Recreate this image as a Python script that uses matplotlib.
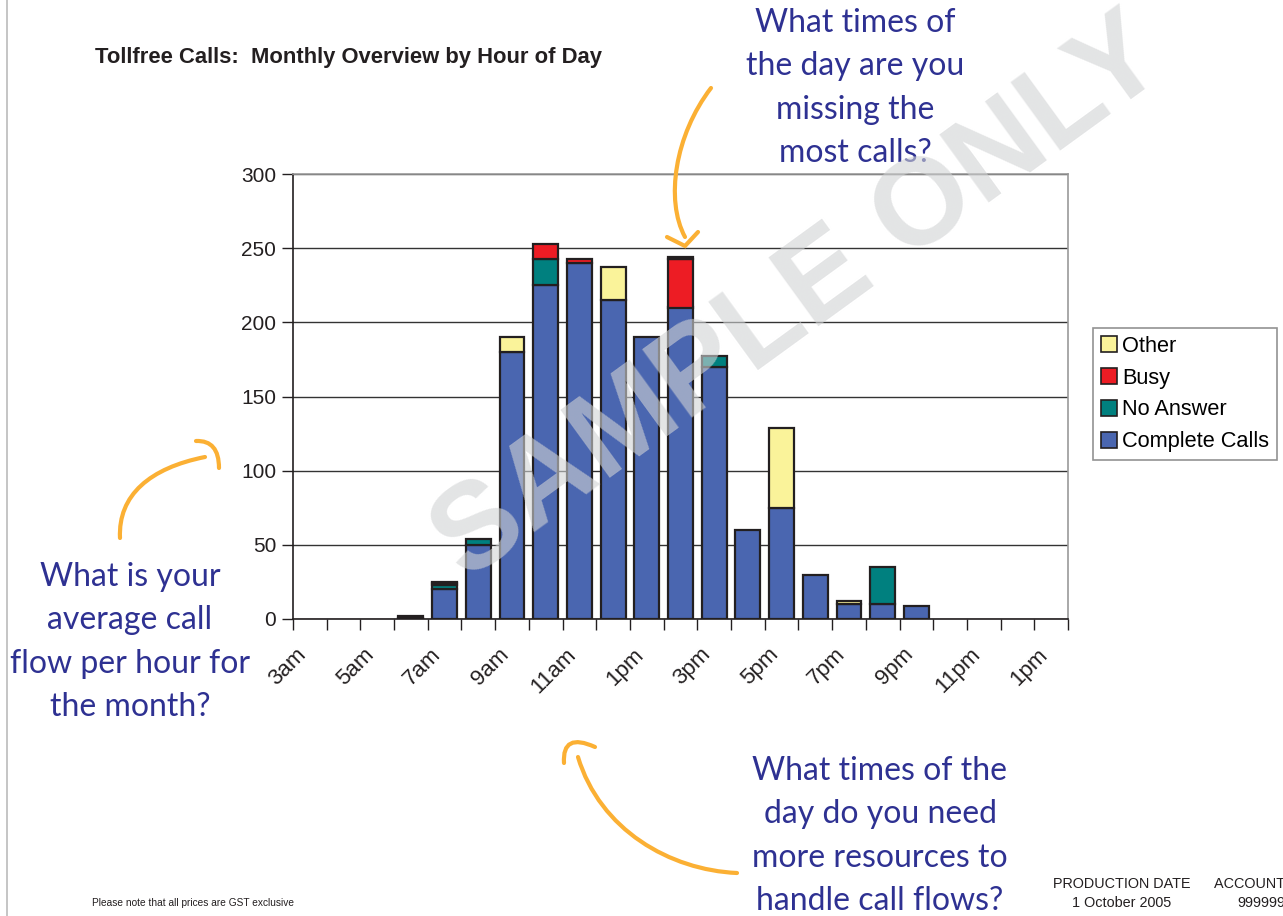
import matplotlib
matplotlib.use("Agg")
import matplotlib.pyplot as plt
import matplotlib.transforms as mtransforms
import numpy as np
from matplotlib.path import Path
from matplotlib.patches import PathPatch, Patch

hours = ['3am', '4am', '5am', '6am', '7am', '8am', '9am', '10am', '11am', '12pm',
         '1pm', '2pm', '3pm', '4pm', '5pm', '6pm', '7pm', '8pm', '9pm', '10pm',
         '11pm', '12am', '1am']
tick_labels = ['3am', '5am', '7am', '9am', '11am', '1pm', '3pm', '5pm', '7pm',
               '9pm', '11pm', '1pm']
complete = [0, 0, 0, 1, 20, 50, 180, 225, 240, 215, 190, 210, 170, 60, 75, 30, 10, 10, 9, 0, 0, 0, 0]
no_answer = [0, 0, 0, 1, 3, 4, 0, 18, 0, 0, 0, 0, 7, 0, 0, 0, 0, 25, 0, 0, 0, 0, 0]
busy = [0, 0, 0, 0, 1, 0, 0, 10, 3, 0, 0, 33, 0, 0, 0, 0, 0, 0, 0, 0, 0, 0, 0]
other = [0, 0, 0, 0, 1, 0, 10, 0, 0, 22, 0, 1, 0, 0, 54, 0, 2, 0, 0, 0, 0, 0, 0]

W, H = 1283, 916
plt.rcParams['font.family'] = ['Liberation Sans', 'DejaVu Sans']
fig = plt.figure(figsize=(W / 100, H / 100), dpi=100)


def px(x, y):
    return (x / W, 1 - y / H)


ax = fig.add_axes([293 / W, 1 - 619 / H, (1068 - 293) / W, (619 - 174) / H])

x = np.arange(len(hours))
cols = {'Complete Calls': '#4A66B0', 'No Answer': '#00807F',
        'Busy': '#ED1C24', 'Other': '#FAF39A'}
bottom = np.zeros(len(hours))
for name, vals in [('Complete Calls', complete), ('No Answer', no_answer),
                   ('Busy', busy), ('Other', other)]:
    vals = np.array(vals)
    mask = vals > 0
    ax.bar(x[mask], vals[mask], 0.74, bottom=bottom[mask], color=cols[name],
           edgecolor='#231F20', linewidth=1.6, zorder=3)
    bottom = bottom + vals

ax.set_xlim(-0.5, len(hours) - 0.5)
ax.set_ylim(0, 300)
ax.set_yticks(range(0, 301, 50))
ax.yaxis.grid(True, color='#333333', linewidth=1)
ax.set_axisbelow(True)
ax.tick_params(axis='y', labelsize=15, length=8, width=1, color='#231F20',
               labelcolor='#231F20', pad=4)

ax.set_xticks(np.arange(len(hours) + 1) - 0.5)
ax.set_xticklabels([])
ax.set_xticks(x[::2], minor=True)
ax.set_xticklabels(tick_labels, minor=True, rotation=45, ha='right',
                   va='top', rotation_mode='anchor', fontsize=16, color='#231F20')
ax.tick_params(axis='x', which='major', length=8, width=1, color='#231F20')
ax.tick_params(axis='x', which='minor', length=0, pad=18)
shift = mtransforms.ScaledTranslation(-14 / 100, 0, fig.dpi_scale_trans)
for lab in ax.get_xticklabels(minor=True):
    lab.set_transform(lab.get_transform() + shift)

for s in ['left', 'bottom']:
    ax.spines[s].set_color('#231F20')
    ax.spines[s].set_linewidth(1.2)
for s in ['top', 'right']:
    ax.spines[s].set_color('#999999')
    ax.spines[s].set_linewidth(1.2)

handles = [Patch(facecolor=cols[n], edgecolor='#231F20', linewidth=1.2, label=n)
           for n in ['Other', 'Busy', 'No Answer', 'Complete Calls']]
leg = ax.legend(handles=handles, loc='upper left', bbox_to_anchor=px(1093, 328),
                bbox_transform=fig.transFigure, fontsize=15.7, frameon=True,
                fancybox=False, edgecolor='#777777', handlelength=0.75,
                handleheight=0.75, handletextpad=0.25, borderpad=0.35,
                labelspacing=0.5, borderaxespad=0)
leg.get_frame().set_linewidth(1.2)

# titles and footers
fig.text(*px(95, 57), 'Tollfree Calls:  Monthly Overview by Hour of Day',
         fontsize=15.8, fontweight='bold', color='#231F20', va='center')
fig.text(*px(92, 903), 'Please note that all prices are GST exclusive',
         fontsize=7.3, color='#231F20', va='center')
fig.text(*px(1122, 884), 'PRODUCTION DATE', fontsize=10.4, color='#231F20',
         ha='center', va='center')
fig.text(*px(1122, 903), '1 October 2005', fontsize=10.4, color='#231F20',
         ha='center', va='center')
fig.text(*px(1214, 884), 'ACCOUNT NUMBER', fontsize=10.4, color='#231F20', va='center')
fig.text(*px(1237, 903), '999999', fontsize=10.4, color='#231F20', va='center')

# page edge
fig.add_artist(plt.Line2D([7 / W, 7 / W], [0, 1], color='#BBBBBB', linewidth=1.2))

# watermark
fig.text(*px(800, 300), 'SAMPLE ONLY', fontsize=88, fontweight='bold',
         color='#D1D3D4', alpha=0.6, rotation=36, ha='center', va='center',
         zorder=10)

# handwritten notes
hand = dict(fontsize=23, color='#2E3192', ha='center', va='center',
            multialignment='center', linespacing=1.56, family=['Lato', 'DejaVu Sans'])
fig.text(*px(855, 88), 'What times of\nthe day are you\nmissing the\nmost calls?', **hand)
fig.text(*px(130, 642), 'What is your\naverage call\nflow per hour for\nthe month?', **hand)
fig.text(*px(880, 836), 'What times of the\nday do you need\nmore resources to\nhandle call flows?', **hand)


def stroke(pts, codes):
    verts = [px(a, b) for a, b in pts]
    p = PathPatch(Path(verts, codes), transform=fig.transFigure, facecolor='none',
                  edgecolor='#FBB034', linewidth=3, capstyle='round', zorder=11)
    fig.add_artist(p)


C4 = [Path.MOVETO, Path.CURVE4, Path.CURVE4, Path.CURVE4]
C3 = [Path.MOVETO, Path.CURVE3, Path.CURVE3]
# top arrow
stroke([(711, 88), (675, 135), (665, 200), (685, 237)], C4)
stroke([(667, 237), (685, 246), (698, 232)], [Path.MOVETO, Path.LINETO, Path.LINETO])
# left arrow
stroke([(120, 538), (118, 495), (150, 468), (205, 457)], C4)
stroke([(196, 441), (219, 440), (219, 468)], C3)
# bottom arrow
stroke([(737, 873), (670, 870), (600, 830), (578, 757)], C4)
stroke([(564, 763), (562, 732), (595, 747)], C3)

fig.savefig('out.png', dpi=100)
